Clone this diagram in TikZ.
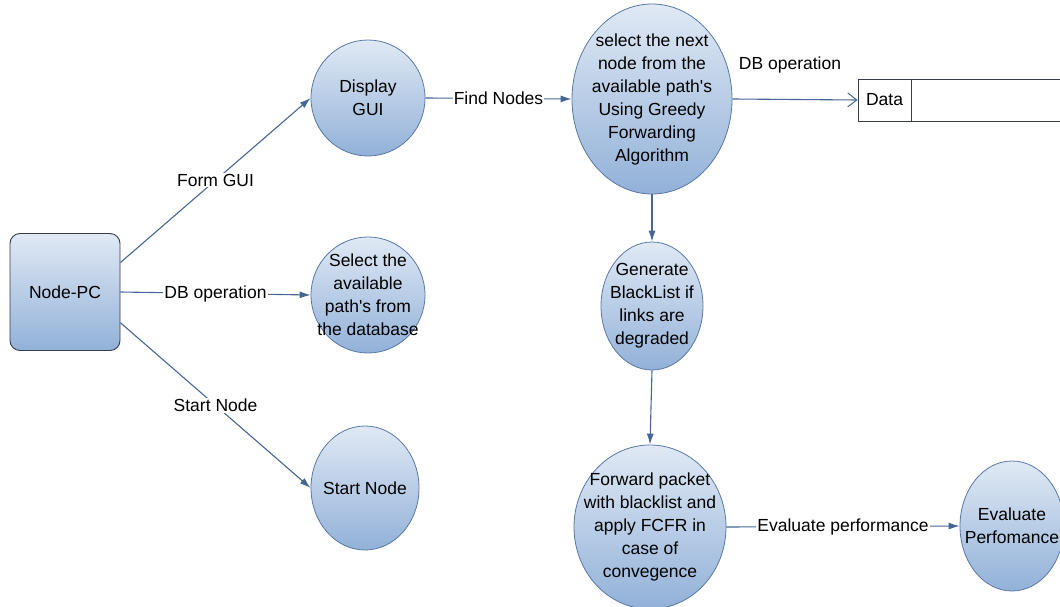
\documentclass[tikz,border=0pt]{standalone}
\usepackage{fontspec}
\setmainfont{Liberation Sans}[Ligatures=TeXOff]
\usetikzlibrary{arrows.meta,shapes.geometric}

\definecolor{procTop}{RGB}{224,233,245}
\definecolor{procBot}{RGB}{146,177,216}
\definecolor{procLine}{RGB}{90,120,165}
\definecolor{flowLine}{RGB}{70,102,150}
\definecolor{boxLine}{RGB}{55,60,75}

\begin{document}
\begin{tikzpicture}
  [
    x                  = 1pt,
    y                  = -1pt,
    process/.style     = {ellipse, draw=procLine, line width=0.8pt,
                          top color=procTop, bottom color=procBot, inner sep=0pt},
    proctext/.style    = {align=center, inner sep=0pt,
                          font=\fontsize{17.5}{23}\selectfont},
    flow/.style        = {draw=flowLine, line width=1.1pt,
                          -{Latex[length=11pt,width=7pt]}},
    flowtext/.style    = {fill=white, inner sep=1pt,
                          font=\fontsize{17.5}{21}\selectfont},
    store/.style       = {draw=boxLine, line width=0.9pt, minimum height=42,
                          inner sep=0pt, font=\fontsize{17.5}{21}\selectfont}
  ]
  \useasboundingbox (0,0) rectangle (1060,607);
  \clip (0,0) rectangle (1060,607);

  % source box
  \node [draw=boxLine, line width=0.9pt, rounded corners=10pt,
         top color=procTop, bottom color=procBot,
         minimum width=110, minimum height=117,
         font=\fontsize{17.5}{21}\selectfont] (pc) at (65,292) {Node-PC};

  % processes
  \node [process, minimum width=114, minimum height=116] (gui)    at (368,98)  {};
  \node [process, minimum width=114, minimum height=116] (paths)  at (368,295) {};
  \node [process, minimum width=108, minimum height=124] (start)  at (365,488) {};
  \node [process, minimum width=160, minimum height=190] (greedy) at (652,99)  {};
  \node [process, minimum width=102, minimum height=128] (black)  at (652,306) {};
  \node [process, minimum width=152, minimum height=164] (fwd)    at (650,527) {};
  \node [process, minimum width=104, minimum height=130] (eval)   at (1012,526) {};

  \node [proctext] (guitext)    at (gui)    {Display\\GUI};
  \node [proctext] (pathstext)  at (paths)  {Select the\\available\\path's from\\the database};
  \node [proctext] (starttext)  at (start)  {Start Node};
  \node [proctext] (greedytext) at (greedy) {select the next\\node from the\\available path's\\Using Greedy\\Forwarding\\Algorithm};
  \node [proctext] (blacktext)  at (black)  {Generate\\BlackList if\\links are\\degraded};
  \node [proctext] (fwdtext)    at (fwd)    {Forward packet\\with blacklist and\\apply FCFR in\\case of\\convegence};
  \node [proctext] (evaltext)   at (eval)   {Evaluate\\Perfomance};

  % data store
  \node [store, minimum width=53] (data) at (884.5,100) {Data};
  \node [store, minimum width=180, anchor=west] (datarest) at (data.east) {};

  % flows
  \draw [flow] (pc.28)  -- node [flowtext] (formlbl)  {Form GUI}     (gui.west);
  \draw [flow] (pc.east) -- node [flowtext] (dblbl)   {DB operation} (paths.west);
  \draw [flow] (pc.-29) -- node [flowtext] (startlbl) {Start Node}   (start.west);
  \draw [flow] (gui.east) -- node [flowtext] (findlbl) {Find Nodes}  (greedy.west);
  \draw [draw=flowLine, line width=1.1pt,
         -{Straight Barb[length=9pt,width=14pt,line width=1pt]}]
        (greedy.east) -- node [flowtext, above=25pt, fill=none, xshift=-5pt] (dblbl2) {DB operation} (data.west);
  \draw [flow] (greedy.south) -- (black.north);
  \draw [flow] (black.south) -- (fwd.north);
  \draw [flow] (fwd.east) -- node [flowtext] (evallbl) {Evaluate performance} (eval.west);
\end{tikzpicture}
\end{document}
